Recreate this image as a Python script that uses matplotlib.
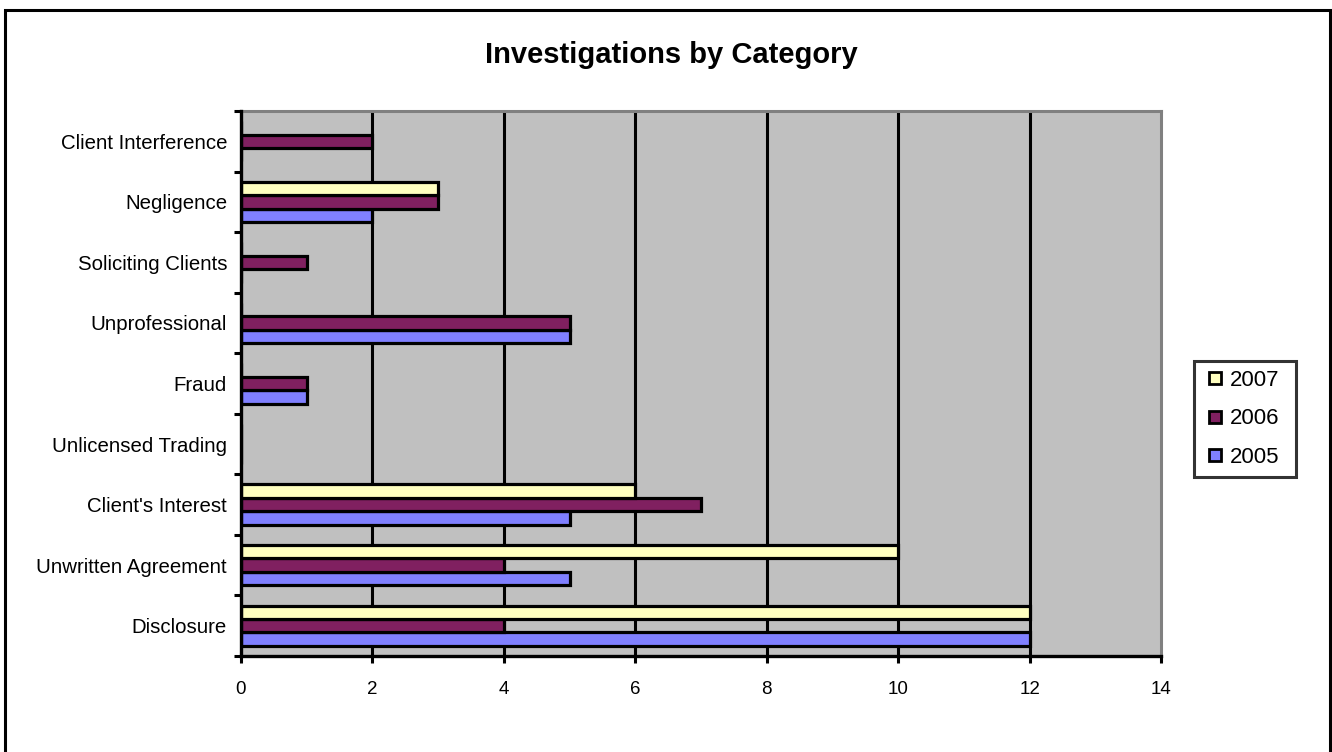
import matplotlib
matplotlib.use("Agg")
import matplotlib.pyplot as plt
import numpy as np
from matplotlib.patches import Rectangle
from matplotlib.lines import Line2D

plt.rcParams['font.family'] = ['Liberation Sans', 'DejaVu Sans']

categories = ["Disclosure", "Unwritten Agreement", "Client's Interest", "Unlicensed Trading",
              "Fraud", "Unprofessional", "Soliciting Clients", "Negligence", "Client Interference"]
s2005 = [12, 5, 5, 0, 1, 5, 0, 2, 0]
s2006 = [4, 4, 7, 0, 1, 5, 1, 3, 2]
s2007 = [12, 10, 6, 0, 0, 0, 0, 3, 0]
series_names = ["2005", "2006", "2007"]
colors = ["#8080FF", "#802060", "#FFFFC0"]
xticks = [0, 2, 4, 6, 8, 10, 12, 14]

W, H = 1332, 752
fig = plt.figure(figsize=(W / 100, H / 100), dpi=100)
# outer chart frame
fig.patches.append(Rectangle((5 / W, -0.01), 1325 / W, 1.01 - 10 / H, transform=fig.transFigure,
                             fill=False, edgecolor='black', linewidth=2.2))
ax = fig.add_axes([241 / W, 1 - 656 / H, 920 / W, 545 / H])
ax.set_facecolor('#C0C0C0')

y = np.arange(len(categories))
h = 1 / 4.5
for i, (vals, name, c) in enumerate(zip([s2005, s2006, s2007], series_names, colors)):
    ax.barh(y + (i - 1) * h, vals, height=h, color=c, edgecolor='black', linewidth=2.3,
            label=name, zorder=3)

ax.set_xlim(0, 14)
ax.set_ylim(-0.5, len(categories) - 0.5)
ax.set_xticks(xticks)
ax.set_xticklabels([str(t) for t in xticks], fontsize=13.5)
ax.set_yticks(y)
ax.set_yticklabels(categories, fontsize=14.7)
ax.set_yticks(np.arange(-0.5, len(categories), 1), minor=True)
ax.tick_params(axis='y', which='major', length=0, pad=10)
ax.tick_params(axis='y', which='minor', length=5, width=2.2, direction='out')
ax.tick_params(axis='x', which='major', length=5, width=2.2, direction='out', pad=13)
for xv in xticks[1:-1]:
    ax.axvline(xv, color='black', linewidth=2.2, zorder=1)

for s in ['left', 'bottom']:
    ax.spines[s].set_linewidth(2.4)
    ax.spines[s].set_color('black')
    ax.spines[s].set_zorder(4)
for s in ['top', 'right']:
    ax.spines[s].set_linewidth(2.2)
    ax.spines[s].set_color('#808080')

fig.text(0.504, 1 - 55 / H, "Investigations by Category", ha='center', va='center',
         fontsize=21, fontweight='bold')

handles = [Line2D([], [], linestyle='none', marker='s', markersize=8, markerfacecolor=c,
                  markeredgecolor='black', markeredgewidth=2)
           for c in colors]
leg = fig.legend(handles[::-1], series_names[::-1], loc='lower left',
                 bbox_to_anchor=(1194 / W, 1 - 477 / H, 102 / W, 0.1), mode='expand',
                 fontsize=16, frameon=True, fancybox=False, borderaxespad=0,
                 handlelength=1.1, handletextpad=0.1, borderpad=0.4, labelspacing=0.8)
leg.get_frame().set_edgecolor('black')
leg.get_frame().set_linewidth(2.2)

fig.savefig("out.png", dpi=100)
